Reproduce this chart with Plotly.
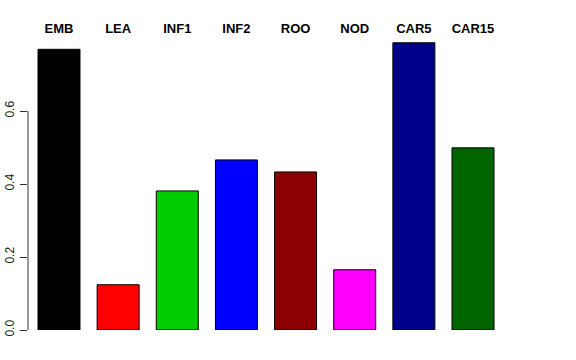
import plotly.graph_objects as go

categories = ["EMB", "LEA", "INF1", "INF2", "ROO", "NOD", "CAR5", "CAR15"]
values = [0.769, 0.124, 0.381, 0.466, 0.433, 0.165, 0.787, 0.499]
colors = ["#000000", "#FF0000", "#00CD00", "#0000FF", "#8B0000", "#FF00FF", "#00008B", "#006400"]
ytick_vals = [0.0, 0.2, 0.4, 0.6]
ytick_text = ["0.0", "0.2", "0.4", "0.6"]

positions = list(range(len(categories)))

fig = go.Figure()
fig.add_trace(go.Bar(
    x=positions, y=values,
    marker=dict(color=colors, line=dict(color="black", width=1)),
    width=0.71,
    hoverinfo="skip",
))

fig.update_layout(
    width=576, height=360,
    margin=dict(l=28, r=72, t=38, b=30, autoexpand=False),
    paper_bgcolor="white", plot_bgcolor="white",
    showlegend=False,
    font=dict(family="Liberation Sans, Arial, sans-serif", color="black"),
    xaxis=dict(
        range=[-0.524, 7.524], side="top",
        tickvals=positions, ticktext=categories,
        tickfont=dict(size=13, weight="bold", color="black"),
        ticks="", showline=False, showgrid=False, zeroline=False,
        ticklabelstandoff=1,
    ),
    yaxis=dict(
        range=[0, 0.8],
        tickvals=ytick_vals, ticktext=ytick_text,
        tickangle=-90, tickfont=dict(size=12, color="#222222"),
        ticks="outside", ticklen=7, tickcolor="#333333", tickwidth=1,
        showline=False, showgrid=False, zeroline=False,
        ticklabelstandoff=1,
    ),
    shapes=[dict(type="line", xref="paper", yref="y", x0=0, x1=0,
                 y0=ytick_vals[0], y1=ytick_vals[-1],
                 line=dict(color="#333333", width=1))],
)

fig.write_html(
    "out.html",
    config={"displayModeBar": False},
    post_script="document.body.style.margin='0';document.body.style.overflow='hidden';",
)
